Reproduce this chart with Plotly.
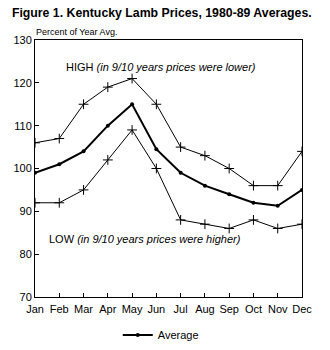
import plotly.graph_objects as go

months = ["Jan", "Feb", "Mar", "Apr", "May", "Jun", "Jul", "Aug", "Sep", "Oct", "Nov", "Dec"]
high = [106, 107, 115, 119, 121, 115, 105, 103, 100, 96, 96, 104]
average = [99, 101, 104, 110, 115, 104.5, 99, 96, 94, 92, 91.3, 95]
low = [92, 92, 95, 102, 109, 100, 88, 87, 86, 88, 86, 87]
y_ticks = [70, 80, 90, 100, 110, 120, 130]

FONT = "Liberation Sans, Arial, sans-serif"

fig = go.Figure()
fig.add_trace(go.Scatter(
    x=months, y=high, mode="lines+markers", showlegend=False,
    line=dict(color="black", width=1),
    marker=dict(symbol="cross-thin", size=7, line=dict(color="black", width=1)),
))
fig.add_trace(go.Scatter(
    x=months, y=low, mode="lines+markers", showlegend=False,
    line=dict(color="black", width=1),
    marker=dict(symbol="cross-thin", size=7, line=dict(color="black", width=1)),
))
fig.add_trace(go.Scatter(
    x=months, y=average, mode="lines+markers", name="Average",
    line=dict(color="black", width=2),
    marker=dict(symbol="circle", size=4, color="black"),
))

fig.add_annotation(x=0.11, y=123.8, xref="paper", yref="y", xanchor="left",
                   text="HIGH <i>(in 9/10 years prices were lower)</i>",
                   showarrow=False, font=dict(size=11, family=FONT, color="black"))
fig.add_annotation(x=0.045, y=83.6, xref="paper", yref="y", xanchor="left",
                   text="LOW <i>(in 9/10 years prices were higher)</i>",
                   showarrow=False, font=dict(size=11, family=FONT, color="black"))
fig.add_annotation(x=-0.005, y=1.005, xref="paper", yref="paper", xanchor="left", yanchor="bottom",
                   text="Percent of Year Avg.", showarrow=False,
                   font=dict(size=9, family=FONT, color="black"))

fig.update_layout(
    width=330, height=350,
    margin=dict(l=35, r=28, t=40, b=53, autoexpand=False),
    paper_bgcolor="white", plot_bgcolor="white",
    title=dict(text="<b>Figure 1. Kentucky Lamb Prices, 1980-89 Averages.</b>",
               x=0.036, xanchor="left", y=0.963, yanchor="middle",
               font=dict(size=12.3, family=FONT, color="black")),
    font=dict(family=FONT, color="black", size=11),
    showlegend=True,
    legend=dict(x=0.31, y=0.043, xref="paper", yref="container", xanchor="left", yanchor="middle",
                font=dict(size=11, family=FONT, color="black"),
                bgcolor="rgba(0,0,0,0)", itemwidth=30),
)
fig.update_xaxes(
    range=[0, 11], showline=True, linecolor="black", linewidth=1, mirror=True,
    ticks="inside", ticklen=4, tickcolor="black", showgrid=False,
    ticklabelstandoff=2,
    tickfont=dict(size=11, family=FONT, color="black"),
)
fig.update_yaxes(
    range=[70, 130], tickvals=y_ticks, showline=True, linecolor="black", linewidth=1, mirror=True,
    ticks="inside", ticklen=4, tickcolor="black", showgrid=False, zeroline=False,
    tickfont=dict(size=11, family=FONT, color="black"),
)

fig.write_html("out.html")
